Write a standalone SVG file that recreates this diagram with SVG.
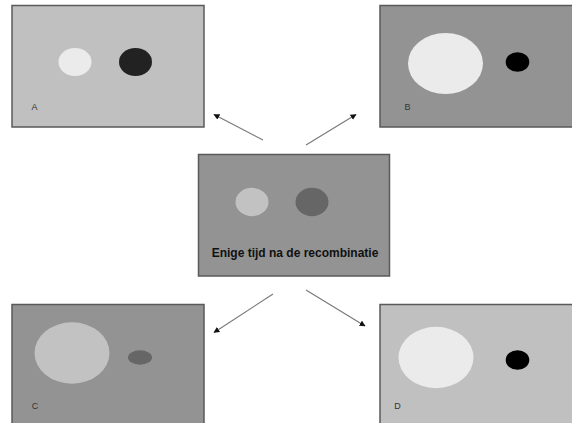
<svg xmlns="http://www.w3.org/2000/svg" width="572" height="423" viewBox="0 0 572 423">
  <defs>
    <style>
      .panel { stroke: #5a5a5a; stroke-width: 1.5; }
      .light { fill: #c0c0c0; }
      .mid { fill: #939393; }
      .lbl { font-family: "Liberation Sans", Arial, sans-serif; font-size: 9px; fill: #333; text-anchor: middle; }
      .title { font-family: "Liberation Sans", Arial, sans-serif; font-size: 12px; font-weight: bold; fill: #111; text-anchor: middle; }
      .conn { stroke: #7a7a7a; stroke-width: 1.2; fill: none; marker-end: url(#tip); }
    </style>
    <marker id="tip" viewBox="0 0 10 10" refX="9" refY="5" markerWidth="6" markerHeight="6" markerUnits="userSpaceOnUse" orient="auto">
      <path d="M0,0 L10,5 L0,10 Z" fill="#111"/>
    </marker>
  </defs>
  <rect width="572" height="423" fill="#ffffff"/>

  <g id="panel-a">
    <rect class="panel light" x="12" y="5.5" width="192" height="121.5"/>
    <ellipse cx="75" cy="62" rx="16.5" ry="14" fill="#ebebeb"/>
    <ellipse cx="135.5" cy="62" rx="16.5" ry="14" fill="#222222"/>
    <text class="lbl" x="34.5" y="110">A</text>
  </g>

  <g id="panel-b">
    <rect class="panel mid" x="380" y="5.5" width="193" height="121.5"/>
    <ellipse cx="445.5" cy="63.5" rx="37.5" ry="30.5" fill="#ebebeb"/>
    <ellipse cx="517.5" cy="62" rx="11.8" ry="9.8" fill="#000000"/>
    <text class="lbl" x="407.5" y="110">B</text>
  </g>

  <g id="center">
    <rect class="panel mid" x="198.5" y="154.5" width="191" height="121.5"/>
    <ellipse cx="252" cy="202" rx="16.5" ry="14.2" fill="#c2c2c2"/>
    <ellipse cx="312" cy="202" rx="16.5" ry="14.2" fill="#666666"/>
    <text class="title" x="295" y="257">Enige tijd na de recombinatie</text>
  </g>

  <g id="panel-c">
    <rect class="panel mid" x="12" y="304.5" width="192" height="125"/>
    <ellipse cx="72" cy="353" rx="37.5" ry="30.7" fill="#c2c2c2"/>
    <ellipse cx="140" cy="357.5" rx="12" ry="7.2" fill="#666666"/>
    <text class="lbl" x="35" y="409">C</text>
  </g>

  <g id="panel-d">
    <rect class="panel light" x="380" y="304.5" width="193" height="125"/>
    <ellipse cx="436" cy="357.5" rx="37.5" ry="30.7" fill="#ebebeb"/>
    <ellipse cx="517.5" cy="360" rx="11.8" ry="9.8" fill="#000000"/>
    <text class="lbl" x="397.5" y="409">D</text>
  </g>

  <g id="connectors">
    <line class="conn" x1="263" y1="140" x2="214" y2="114.5"/>
    <line class="conn" x1="306" y1="145" x2="356" y2="114.5"/>
    <line class="conn" x1="273" y1="294" x2="214" y2="332.5"/>
    <line class="conn" x1="306" y1="290" x2="365" y2="326"/>
  </g>
</svg>
